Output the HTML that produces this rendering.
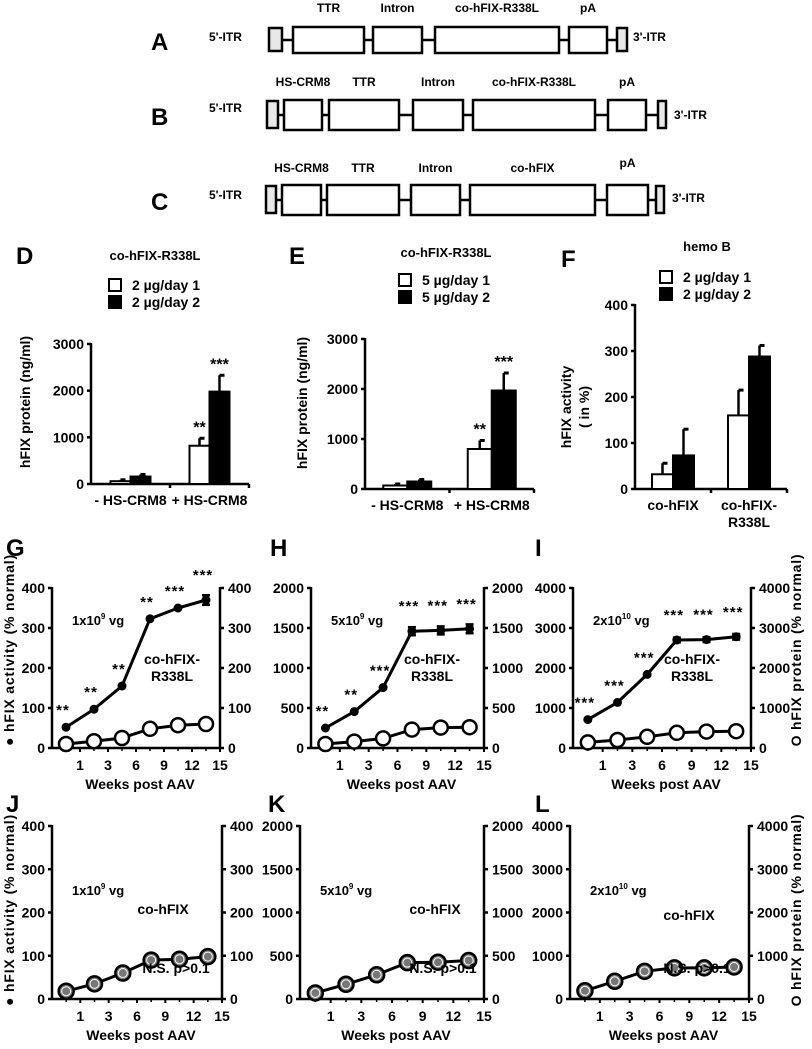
<!DOCTYPE html>
<html><head><meta charset="utf-8">
<style>
html,body{margin:0;padding:0;background:#fff;}
svg{display:block;}
text{font-family:"Liberation Sans Narrow","Liberation Sans",sans-serif;font-weight:bold;fill:#000;}
.w{font-family:"Liberation Sans",sans-serif;}
</style></head>
<body>
<svg id="fig" width="812" height="1049" viewBox="0 0 812 1049" xmlns="http://www.w3.org/2000/svg"></svg>
<script>
// ---------- bar chart data ----------
const barGroupsDE = ['- HS-CRM8', '+ HS-CRM8'];
const dWhite = [60, 820];
const dWhiteErr = [30, 160];
const dBlack = [160, 1980];
const dBlackErr = [45, 350];
const dStarsWhite = ['', '**'];
const dStarsBlack = ['', '***'];
const eWhite = [70, 800];
const eWhiteErr = [30, 170];
const eBlack = [150, 1970];
const eBlackErr = [40, 350];
const deTicks = [0, 1000, 2000, 3000];
const barGroupsF = ['co-hFIX', 'co-hFIX-R338L'];
const fWhite = [32, 160];
const fWhiteErr = [24, 55];
const fBlack = [73, 288];
const fBlackErr = [57, 24];
const fTicks = [0, 100, 200, 300, 400];
// ---------- time course data ----------
const weekTicks = ['1', '3', '6', '9', '12', '15'];
const gActivity = [52, 97, 155, 323, 350, 370];
const gActErr = [0, 0, 0, 0, 0, 12];
const gProtein = [10, 17, 25, 48, 57, 60];
const gStars = ['**', '**', '**', '**', '***', '***'];
const hActivity = [250, 455, 755, 1460, 1470, 1490];
const hActErr = [0, 0, 0, 50, 50, 55];
const hProtein = [50, 80, 120, 230, 255, 260];
const hStars = ['**', '**', '***', '***', '***', '***'];
const iActivity = [710, 1140, 1840, 2700, 2710, 2780];
const iActErr = [0, 0, 0, 60, 60, 70];
const iProtein = [140, 200, 280, 380, 410, 420];
const iStars = ['***', '***', '***', '***', '***', '***'];
const jValues = [18, 35, 60, 90, 92, 98];
const jErr = [0, 0, 0, 0, 0, 15];
const kValues = [70, 170, 280, 420, 425, 445];
const kErr = [0, 0, 0, 0, 0, 0];
const lValues = [190, 410, 640, 720, 720, 740];
const lErr = [0, 0, 0, 0, 0, 0];
const ticks400 = [0, 100, 200, 300, 400];
const ticks2000 = [0, 500, 1000, 1500, 2000];
const ticks4000 = [0, 1000, 2000, 3000, 4000];

const NS = 'http://www.w3.org/2000/svg';
const svg = document.getElementById('fig');
function mk(tag, attrs, parent) {
  const e = document.createElementNS(NS, tag);
  for (const k in attrs) e.setAttribute(k, attrs[k]);
  (parent || svg).appendChild(e);
  return e;
}
function txt(s, x, y, size, anchor, parent, extra) {
  const t = mk('text', Object.assign({x: x, y: y, 'font-size': size, 'text-anchor': anchor || 'start'}, extra || {}), parent);
  t.textContent = s;
  return t;
}

// ---------- constructs A/B/C ----------
const rows = [
  {letter: 'A', y0: 27, y1: 53, labY: 12, itr5Y: 41, itr3Y: 41, itr3X: 633,
   parts: [['itr', 269, 282], ['TTR', 293, 364], ['Intron', 373, 422], ['co-hFIX-R338L', 435, 559], ['pA', 569, 607], ['itr', 617, 627]]},
  {letter: 'B', y0: 100, y1: 130, labY: 86, itr5Y: 112, itr3Y: 119, itr3X: 674,
   parts: [['itr', 267, 278], ['HS-CRM8', 284, 322], ['TTR', 329, 399], ['Intron', 413, 463], ['co-hFIX-R338L', 473, 595], ['pA', 608, 646], ['itr', 658, 666]]},
  {letter: 'C', y0: 185, y1: 215, labY: 172, itr5Y: 199, itr3Y: 202, itr3X: 672,
   parts: [['itr', 266, 276], ['HS-CRM8', 282, 321], ['TTR', 327, 399], ['Intron', 411, 460], ['co-hFIX', 470, 595], ['pA', 607, 648], ['itr', 656, 664]]}
];
rows.forEach(function (r) {
  const g = mk('g', {});
  
  
  const cy = (r.y0 + r.y1) / 2;
  const first = r.parts[0], last = r.parts[r.parts.length - 1];
  const ln = mk('line', {x1: first[2], x2: last[1], y1: cy, y2: cy, stroke: '#000', 'stroke-width': 2.5}, g);
  
  
  r.parts.forEach(function (p) {
    const isItr = p[0] === 'itr';
    const rc = mk('rect', {x: p[1], y: isItr ? r.y0 + 1 : r.y0, width: p[2] - p[1], height: isItr ? r.y1 - r.y0 - 3 : r.y1 - r.y0,
      fill: isItr ? '#e8e8e8' : '#fff', stroke: '#000', 'stroke-width': 2.5}, g);
    
    
    if (!isItr) {
      const t = txt(p[0], (p[1] + p[2]) / 2, (p[0] === 'pA' && r.letter === 'C') ? r.labY - 5 : r.labY, 12, 'middle', g, {'class': 'w'});
      
      
    }
  });
  const l5 = txt("5'-ITR", 209, r.itr5Y, 12, 'start', g, {'class': 'w'});
  
  
  const l3 = txt("3'-ITR", r.itr3X, r.itr3Y, 12, 'start', g, {'class': 'w'});
  
  
  const pl = txt(r.letter, 151, cy + 10, 24, 'start', g, {'class': 'w'});
  
  
});

// ---------- generic y axis ----------
function yAxis(g, x, yTop, yBot, ticks, max, side) {
  const sc = function (v) { return yBot - v / max * (yBot - yTop); };
  const ax = mk('line', {x1: x, x2: x, y1: yTop - 1, y2: yBot, stroke: '#000', 'stroke-width': 2.5}, g);
  
  
  ticks.forEach(function (v) {
    const y = sc(v);
    const dx = side === 'right' ? 4 : -4;
    mk('line', {x1: x, x2: x + dx, y1: y, y2: y, stroke: '#000', 'stroke-width': 2.5}, g);
    const t = txt(String(v), side === 'right' ? x + 8 : x - 7, y + 5, 14, side === 'right' ? 'start' : 'end', g);
    
    
  });
  return sc;
}

// ---------- bar panels ----------
function barPanel(name, o) {
  const g = mk('g', {});
  
  
  const sc = yAxis(g, o.x0, o.yTop, o.yBot, o.ticks, o.max, 'left');
  const xa = mk('line', {x1: o.x0, x2: o.x1, y1: o.yBot, y2: o.yBot, stroke: '#000', 'stroke-width': 2.5}, g);
  
  
  const bw = (o.x1 - o.x0) / o.groups.length;
  for (let i = 1; i <= o.groups.length; i++) {
    mk('line', {x1: o.x0 + i * bw, x2: o.x0 + i * bw, y1: o.yBot, y2: o.yBot + 4, stroke: '#000', 'stroke-width': 2.5}, g);
  }
  o.groups.forEach(function (lab, i) {
    const c = o.x0 + (i + 0.5) * bw;
    [[o.s1, o.e1, '#fff', -1, o.st1], [o.s2, o.e2, '#000', 0, o.st2]].forEach(function (s, k) {
      const bx = c + s[3] * o.barW;
      const top = sc(s[0][i]);
      const et = sc(s[0][i] + s[1][i]);
      const ex = bx + o.barW / 2;
      const el = mk('line', {x1: ex, x2: ex, y1: top, y2: et, stroke: '#000', 'stroke-width': 2.5}, g);
      
      
      mk('line', {x1: ex, x2: ex + 5, y1: et, y2: et, stroke: '#000', 'stroke-width': 3}, g);
      const b = mk('rect', {x: bx, y: top, width: o.barW, height: o.yBot - top, fill: s[2], stroke: '#000', 'stroke-width': 2}, g);
      
      
      if (s[4] && s[4][i]) {
        const st = txt(s[4][i], ex, et - 6, 16, 'middle', g, {'class': 'w'});
        
        
      }
    });
    const parts = o.wrap && lab.indexOf('-R') > 0 ? ['co-hFIX-', 'R338L'] : [lab];
    parts.forEach(function (p, j) {
      const t = txt(p, c, o.yBot + 21 + j * 17, 14, 'middle', g);
      
      
    });
  });
  o.ylab.forEach(function (s, j) {
    const yl = txt(s, 0, 0, 14, 'middle', g, {'class': 'w', transform: 'translate(' + (o.ylx + j * 18) + ',' + o.yly + ') rotate(-90)'});
    
    
  });
  const pl = txt(o.letter, o.lx, o.ly, 24, 'start', g, {'class': 'w'});
  
  
  const tt = txt(o.title, o.tx, o.ty, 13, 'middle', g, {'class': 'w'});
  
  
  o.legend.forEach(function (s, j) {
    const cy = o.legY + j * 17;
    const lb = mk('rect', {x: o.legX, y: cy - 6, width: 12, height: 12, fill: j ? '#000' : '#fff', stroke: '#000', 'stroke-width': 2}, g);
    
    
    const lt = txt(s, o.legX + 23, cy + 5, 14, 'start', g);
    
    
  });
}
barPanel('panel-d', {x0: 91, x1: 249, yTop: 344, yBot: 484, max: 3000, ticks: deTicks, groups: barGroupsDE, barW: 20,
  s1: dWhite, e1: dWhiteErr, s2: dBlack, e2: dBlackErr, st1: dStarsWhite, st2: dStarsBlack,
  ylab: ['hFIX protein  (ng/ml)'], ylx: 30, yly: 402, letter: 'D', lx: 16, ly: 264,
  title: 'co-hFIX-R338L', tx: 155, ty: 260, legend: ['2 µg/day 1', '2 µg/day 2'], legX: 109, legY: 285});
barPanel('panel-e', {x0: 365, x1: 534, yTop: 339, yBot: 489, max: 3000, ticks: deTicks, groups: barGroupsDE, barW: 24,
  s1: eWhite, e1: eWhiteErr, s2: eBlack, e2: eBlackErr, st1: dStarsWhite, st2: dStarsBlack,
  ylab: ['hFIX protein  (ng/ml)'], ylx: 307, yly: 403, letter: 'E', lx: 289, ly: 264,
  title: 'co-hFIX-R338L', tx: 446, ty: 257, legend: ['5 µg/day 1', '5 µg/day 2'], legX: 399, legY: 280});
barPanel('panel-f', {x0: 635, x1: 787, yTop: 305, yBot: 489, max: 400, ticks: fTicks, groups: barGroupsF, barW: 21, wrap: true,
  s1: fWhite, e1: fWhiteErr, s2: fBlack, e2: fBlackErr,
  ylab: ['hFIX activity', '( in %)'], ylx: 571, yly: 407, letter: 'F', lx: 561, ly: 267,
  title: 'hemo B', tx: 707, ty: 251, legend: ['2 µg/day 1', '2 µg/day 2'], legX: 660, legY: 277});

// ---------- time course panels ----------
function linePanel(name, o) {
  const g = mk('g', {});
  
  
  const sc = yAxis(g, o.x0, o.yTop, o.yBot, o.ticks, o.max, 'left');
  yAxis(g, o.x1, o.yTop, o.yBot, o.ticks, o.max, 'right');
  const xa = mk('line', {x1: o.x0, x2: o.x1, y1: o.yBot, y2: o.yBot, stroke: '#000', 'stroke-width': 2.5}, g);
  
  
  const step = (o.x1 - o.x0) / weekTicks.length;
  const xs = function (i) { return o.x0 + (i + 0.5) * step; };
  weekTicks.forEach(function (w, i) {
    const x = o.x0 + (i + 1) * step;
    mk('line', {x1: x, x2: x, y1: o.yBot, y2: o.yBot + 4, stroke: '#000', 'stroke-width': 2}, g);
    mk('line', {x1: xs(i), x2: xs(i), y1: o.yBot, y2: o.yBot + 3, stroke: '#000', 'stroke-width': 1.5}, g);
    const t = txt(w, x, o.yBot + 22, 14, 'middle', g);
    
    
  });
  const xt = txt('Weeks post AAV', (o.x0 + o.x1) / 2 + 4, o.yBot + 41, 14, 'middle', g);
  
  
  function series(vals, errs, kind) {
    const pts = vals.map(function (v, i) { return xs(i) + ',' + sc(v); }).join(' ');
    const pl = mk('polyline', {points: pts, fill: 'none', stroke: '#000', 'stroke-width': 3}, g);
    
    
    vals.forEach(function (v, i) {
      const y = sc(v);
      if (errs && errs[i]) {
        const eb = mk('line', {x1: xs(i), x2: xs(i), y1: sc(v + errs[i]), y2: sc(v - errs[i]), stroke: '#000', 'stroke-width': 3}, g);
        
        
        mk('line', {x1: xs(i) - 4, x2: xs(i) + 4, y1: sc(v + errs[i]), y2: sc(v + errs[i]), stroke: '#000', 'stroke-width': 2.5}, g);
        mk('line', {x1: xs(i) - 4, x2: xs(i) + 4, y1: sc(v - errs[i]), y2: sc(v - errs[i]), stroke: '#000', 'stroke-width': 2.5}, g);
      }
      let c;
      if (kind === 'activity') c = mk('circle', {cx: xs(i), cy: y, r: 4.5, fill: '#000'}, g);
      else if (kind === 'protein') c = mk('circle', {cx: xs(i), cy: y, r: 7, fill: '#fff', stroke: '#000', 'stroke-width': 2.5}, g);
      else {
        c = mk('circle', {cx: xs(i), cy: y, r: 7.5, fill: '#777', stroke: '#000', 'stroke-width': 2.5}, g);
        mk('circle', {cx: xs(i), cy: y, r: 4.5, fill: 'none', stroke: '#fff', 'stroke-width': 1}, g);
      }
      
      
      if (o.stars && kind === 'activity') {
        const st = txt(o.stars[i], xs(i) - 3, y - 12 - (errs[i] ? 8 : 0), 15, 'middle', g, {'class': 'w', 'letter-spacing': '1'});
        
        
      }
    });
  }
  if (o.combined) series(o.combined, o.combErr, 'combined');
  else { series(o.protein, null, 'protein'); series(o.activity, o.actErr, 'activity'); }
  const dose = txt(o.dose[0], o.x0 + 20, o.doseY, 13, 'start', g);
  
  
  const ts = mk('tspan', {'font-size': 8, dy: -6}, dose); ts.textContent = o.dose[1];
  const ts2 = mk('tspan', {dy: 6}, dose); ts2.textContent = ' vg';
  o.vector.forEach(function (s, j) {
    const v = txt(s, o.vx, o.vy + j * 17, 14, 'middle', g);
    
    
  });
  if (o.ns) {
    const n = txt('N.S. p>0.1', o.nsx, o.yBot - 26, 14, 'middle', g);
    
    
  }
  const pl = txt(o.letter, o.lx, o.ly, 24, 'start', g, {'class': 'w'});
  
  
}
const gy = {yTop: 588, yBot: 748};
const jy = {yTop: 826, yBot: 999};
linePanel('panel-g', Object.assign({x0: 52, x1: 220, max: 400, ticks: ticks400, activity: gActivity, actErr: gActErr, protein: gProtein, stars: gStars,
  dose: ['1x10', '9'], doseY: 625, vector: ['co-hFIX-', 'R338L'], vx: 172, vy: 664, letter: 'G', lx: 6, ly: 556}, gy));
linePanel('panel-h', Object.assign({x0: 311, x1: 484, max: 2000, ticks: ticks2000, activity: hActivity, actErr: hActErr, protein: hProtein, stars: hStars,
  dose: ['5x10', '9'], doseY: 625, vector: ['co-hFIX-', 'R338L'], vx: 432, vy: 664, letter: 'H', lx: 270, ly: 556}, gy));
linePanel('panel-i', Object.assign({x0: 573, x1: 751, max: 4000, ticks: ticks4000, activity: iActivity, actErr: iActErr, protein: iProtein, stars: iStars,
  dose: ['2x10', '10'], doseY: 625, vector: ['co-hFIX-', 'R338L'], vx: 692, vy: 664, letter: 'I', lx: 535, ly: 556}, gy));
linePanel('panel-j', Object.assign({x0: 52, x1: 222, max: 400, ticks: ticks400, combined: jValues, combErr: jErr,
  dose: ['1x10', '9'], doseY: 895, vector: ['co-hFIX'], vx: 163, vy: 914, ns: true, nsx: 176, letter: 'J', lx: 6, ly: 812}, jy));
linePanel('panel-k', Object.assign({x0: 300, x1: 484, max: 2000, ticks: ticks2000, combined: kValues, combErr: kErr,
  dose: ['5x10', '9'], doseY: 895, vector: ['co-hFIX'], vx: 435, vy: 914, ns: true, nsx: 443, letter: 'K', lx: 268, ly: 812}, jy));
linePanel('panel-l', Object.assign({x0: 570, x1: 749, max: 4000, ticks: ticks4000, combined: lValues, combErr: lErr,
  dose: ['2x10', '10'], doseY: 895, vector: ['co-hFIX'], vx: 689, vy: 920, ns: true, nsx: 697, letter: 'L', lx: 535, ly: 812}, jy));

// side axis titles
[[650, 'g'], [910, 'j']].forEach(function (p) {
  const a = txt('● hFIX activity (% normal)', 0, 0, 14, 'middle', svg, {'class': 'w', 'letter-spacing': '0.8', transform: 'translate(14,' + p[0] + ') rotate(-90)'});
  
  
  const b = txt('O hFIX protein (% normal)', 0, 0, 14, 'middle', svg, {'class': 'w', 'letter-spacing': '0.8', transform: 'translate(801,' + p[0] + ') rotate(-90)'});
  
  
});
</script>
</body></html>
